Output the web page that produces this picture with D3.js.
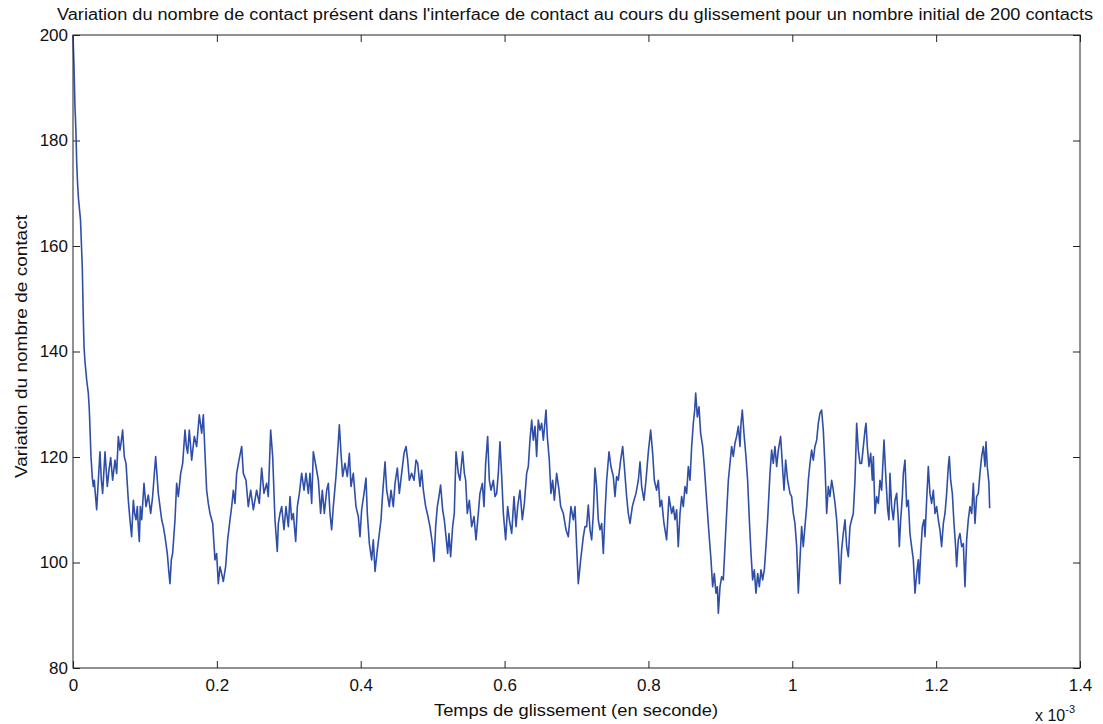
<!DOCTYPE html>
<html>
<head>
  <style>
    body { margin: 0; padding: 0; background: #fff; }
    svg { display: block; font-family: "Liberation Sans", Arial, sans-serif; }
  </style>
</head>
<body>
  <div id="chart"></div>
  <script src="https://cdnjs.cloudflare.com/ajax/libs/d3/7.8.5/d3.min.js"></script>
  <script>
    // time in units of 1e-3 s, number of contacts
    const title = "Variation du nombre de contact présent dans l'interface de contact au cours du glissement pour un nombre initial de 200 contacts";
    const xLabel = "Temps de glissement (en seconde)";
    const yLabel = "Variation du nombre de contact";
    const xTicks = [0, 0.2, 0.4, 0.6, 0.8, 1, 1.2, 1.4];
    const yTicks = [80, 100, 120, 140, 160, 180, 200];

    const contacts = [
      [0,200],[0.0007,197],[0.0014,194],[0.0021,190],[0.0028,186],[0.0035,184],[0.0042,181],[0.0051,176],
      [0.0063,172],[0.0076,169],[0.0090,167],[0.0104,165],[0.0111,162.5],[0.0129,156],[0.0143,146.6],
      [0.0153,141],[0.0167,138],[0.0181,136],[0.0190,134.6],[0.0213,132.1],[0.0227,128.9],[0.0250,120.1],
      [0.0269,116.0],[0.0283,114.4],[0.0296,115.6],[0.0310,113.1],[0.0329,110.0],[0.0347,114.4],[0.0375,121.0],
      [0.0394,115.6],[0.0412,113.1],[0.0445,121.0],[0.0477,114.4],[0.0500,117.5],[0.0524,119.9],[0.0551,115.6],
      [0.0584,119.4],[0.0607,116.9],[0.0630,123.9],[0.0653,121.3],[0.0667,122.6],[0.0690,125.1],[0.0713,120.1],
      [0.0737,118.8],[0.0769,111.8],[0.0792,108.1],[0.0815,104.9],[0.0839,111.8],[0.0857,109.3],[0.0876,108.1],
      [0.0894,110.6],[0.0908,106.8],[0.0922,104.0],[0.0936,110.6],[0.0955,108.1],[0.0987,115.0],[0.1015,110.6],
      [0.1047,112.8],[0.1080,109.3],[0.1107,112.5],[0.1149,120.1],[0.1186,113.1],[0.1233,108.1],[0.1256,106.8],
      [0.1279,104.9],[0.1311,101.7],[0.1330,98.6],[0.1348,96.0],[0.1367,100.5],[0.1385,101.7],[0.1418,108.1],
      [0.1441,115.0],[0.1464,112.5],[0.1497,116.9],[0.1525,118.8],[0.1557,125.1],[0.1576,122.0],[0.1594,120.7],
      [0.1617,125.1],[0.1650,119.4],[0.1687,123.9],[0.1719,122.0],[0.1756,128.0],[0.1789,124.5],[0.1812,128.0],
      [0.1835,120.7],[0.1858,113.7],[0.1881,111.2],[0.1905,109.3],[0.1942,107.4],[0.1974,100.5],[0.1997,101.7],
      [0.2020,96.0],[0.2044,99.2],[0.2067,97.9],[0.2090,96.4],[0.2122,99.2],[0.2150,104.3],[0.2183,108.1],
      [0.2206,110.6],[0.2229,113.7],[0.2252,111.2],[0.2275,116.9],[0.2308,119.4],[0.2345,122.0],[0.2368,116.9],
      [0.2405,115.6],[0.2437,110.6],[0.2470,113.7],[0.2507,110.0],[0.2553,113.7],[0.2590,111.2],[0.2623,117.9],
      [0.2655,113.1],[0.2692,115.0],[0.2715,112.5],[0.2748,125.1],[0.2776,120.1],[0.2808,108.1],[0.2840,102.1],
      [0.2855,107.4],[0.2878,109.3],[0.2901,110.6],[0.2933,106.2],[0.2961,110.6],[0.2994,106.8],[0.3017,112.5],
      [0.3040,108.1],[0.3063,109.3],[0.3096,104.0],[0.3119,110.6],[0.3147,113.1],[0.3179,116.9],[0.3212,113.7],
      [0.3239,116.9],[0.3272,113.1],[0.3295,116.9],[0.3318,111.2],[0.3341,121.0],[0.3378,118.2],[0.3411,115.6],
      [0.3443,109.3],[0.3466,113.7],[0.3494,109.3],[0.3527,113.7],[0.3550,115.0],[0.3573,109.3],[0.3596,106.2],
      [0.3619,110.6],[0.3656,116.3],[0.3680,121.0],[0.3703,126.1],[0.3726,120.7],[0.3749,116.3],[0.3781,118.8],
      [0.3814,116.3],[0.3842,120.7],[0.3865,114.4],[0.3897,116.9],[0.3934,110.6],[0.3967,108.7],[0.3990,104.9],
      [0.4013,110.0],[0.4046,113.1],[0.4073,116.0],[0.4092,109.3],[0.4120,103.6],[0.4152,100.5],[0.4175,104.3],
      [0.4199,98.3],[0.4231,102.4],[0.4259,105.5],[0.4282,108.1],[0.4305,113.1],[0.4338,119.1],[0.4361,113.7],
      [0.4398,110.6],[0.4421,113.7],[0.4453,110.6],[0.4477,115.0],[0.4509,117.9],[0.4537,113.1],[0.4569,116.9],
      [0.4602,120.7],[0.4630,122.0],[0.4653,119.4],[0.4676,115.6],[0.4708,116.9],[0.4741,115.6],[0.4769,119.4],
      [0.4792,118.8],[0.4824,114.4],[0.4847,117.5],[0.4871,113.7],[0.4903,110.6],[0.4926,109.3],[0.4963,106.8],
      [0.4996,103.6],[0.5019,100.2],[0.5042,106.8],[0.5065,110.6],[0.5088,112.5],[0.5111,114.7],[0.5139,110.0],
      [0.5162,108.1],[0.5186,104.9],[0.5209,101.7],[0.5227,105.5],[0.5250,101.1],[0.5278,106.8],[0.5301,109.3],
      [0.5325,121.0],[0.5357,116.9],[0.5380,115.6],[0.5417,121.0],[0.5441,116.9],[0.5459,115.6],[0.5482,109.3],
      [0.5510,111.8],[0.5543,106.8],[0.5575,108.7],[0.5603,104.3],[0.5635,109.3],[0.5658,113.1],[0.5691,115.0],
      [0.5714,110.6],[0.5737,118.8],[0.5765,123.9],[0.5788,115.6],[0.5811,113.7],[0.5844,115.6],[0.5867,112.5],
      [0.5890,113.1],[0.5913,116.9],[0.5936,122.9],[0.5960,116.3],[0.5983,109.3],[0.6015,104.3],[0.6043,110.6],
      [0.6066,108.1],[0.6099,105.5],[0.6131,112.5],[0.6159,106.8],[0.6182,110.6],[0.6214,113.7],[0.6247,108.1],
      [0.6275,111.2],[0.6307,116.9],[0.6330,118.2],[0.6353,123.2],[0.6377,127.0],[0.6400,123.2],[0.6423,125.8],
      [0.6446,120.1],[0.6469,127.0],[0.6492,125.1],[0.6516,126.4],[0.6539,123.2],[0.6576,128.9],[0.6594,123.9],
      [0.6622,119.4],[0.6645,113.1],[0.6669,115.6],[0.6692,111.8],[0.6724,116.9],[0.6757,113.7],[0.6780,110.6],
      [0.6817,109.3],[0.6854,106.2],[0.6886,104.9],[0.6923,110.6],[0.6956,108.1],[0.6979,110.6],[0.7002,103.0],
      [0.7025,96.0],[0.7058,100.5],[0.7095,104.9],[0.7118,106.8],[0.7141,106.8],[0.7164,110.9],[0.7188,106.2],
      [0.7211,104.3],[0.7234,109.3],[0.7257,117.9],[0.7280,114.4],[0.7303,108.1],[0.7327,106.2],[0.7350,107.4],
      [0.7373,101.7],[0.7396,109.3],[0.7419,115.6],[0.7452,121.0],[0.7479,118.2],[0.7512,116.3],[0.7535,112.5],
      [0.7558,116.3],[0.7581,115.6],[0.7614,119.4],[0.7642,122.0],[0.7665,118.2],[0.7697,112.5],[0.7720,109.3],
      [0.7744,107.4],[0.7776,110.6],[0.7799,111.8],[0.7827,113.1],[0.7860,115.6],[0.7883,119.1],[0.7906,114.4],
      [0.7938,111.8],[0.7966,115.6],[0.7999,121.0],[0.8031,125.1],[0.8059,120.7],[0.8082,115.6],[0.8114,113.7],
      [0.8138,115.6],[0.8161,110.6],[0.8184,111.8],[0.8216,107.4],[0.8253,104.3],[0.8286,112.5],[0.8323,109.3],
      [0.8346,110.6],[0.8369,108.1],[0.8392,110.0],[0.8415,103.0],[0.8439,109.3],[0.8462,112.5],[0.8485,110.6],
      [0.8508,114.4],[0.8531,113.1],[0.8555,118.2],[0.8578,115.6],[0.8601,122.0],[0.8624,126.4],[0.8643,128.9],
      [0.8657,132.1],[0.8680,127.6],[0.8703,129.5],[0.8726,124.5],[0.8754,122.0],[0.8777,118.2],[0.8809,111.8],
      [0.8842,105.5],[0.8870,100.5],[0.8893,95.4],[0.8916,97.9],[0.8939,94.2],[0.8958,95.4],[0.8972,90.4],
      [0.8995,95.4],[0.9018,97.3],[0.9041,96.7],[0.9064,103.0],[0.9087,109.3],[0.9111,115.6],[0.9134,118.8],
      [0.9157,122.0],[0.9180,120.1],[0.9203,122.6],[0.9226,123.9],[0.9250,125.8],[0.9273,122.0],[0.9287,126.4],
      [0.9305,128.9],[0.9328,124.5],[0.9356,120.1],[0.9379,115.6],[0.9403,108.1],[0.9426,101.7],[0.9449,96.7],
      [0.9472,98.6],[0.9495,94.2],[0.9519,97.9],[0.9542,95.4],[0.9565,98.6],[0.9588,96.7],[0.9611,98.6],
      [0.9634,103.0],[0.9657,108.1],[0.9690,116.9],[0.9713,121.3],[0.9736,118.8],[0.9759,122.0],[0.9783,118.2],
      [0.9806,121.3],[0.9838,123.9],[0.9861,118.8],[0.9885,113.7],[0.9908,119.4],[0.9935,115.6],[0.9968,113.1],
      [0.9991,112.5],[1.0014,109.3],[1.0037,107.4],[1.0061,103.0],[1.0084,94.2],[1.0107,100.5],[1.0130,106.8],
      [1.0153,103.0],[1.0176,106.8],[1.0200,110.6],[1.0223,115.6],[1.0246,118.8],[1.0269,121.3],[1.0292,119.4],
      [1.0315,122.0],[1.0339,123.2],[1.0362,126.4],[1.0385,128.3],[1.0408,128.9],[1.0431,125.1],[1.0455,118.2],
      [1.0478,109.3],[1.0501,114.4],[1.0524,112.5],[1.0547,115.6],[1.0570,113.7],[1.0594,111.2],[1.0617,108.1],
      [1.0640,103.0],[1.0663,96.0],[1.0686,102.4],[1.0709,105.5],[1.0733,108.1],[1.0756,103.0],[1.0779,101.1],
      [1.0802,106.8],[1.0825,108.1],[1.0848,109.3],[1.0872,115.6],[1.0895,126.4],[1.0918,121.3],[1.0941,118.8],
      [1.0964,118.8],[1.0988,122.0],[1.1011,125.1],[1.1025,126.4],[1.1043,122.0],[1.1066,118.2],[1.1090,120.7],
      [1.1113,115.6],[1.1127,120.1],[1.1150,109.3],[1.1173,112.5],[1.1196,111.2],[1.1219,115.6],[1.1242,113.7],
      [1.1275,123.2],[1.1303,115.6],[1.1326,110.0],[1.1344,108.1],[1.1358,116.9],[1.1381,110.6],[1.1405,108.1],
      [1.1428,111.8],[1.1451,113.1],[1.1474,108.1],[1.1488,103.0],[1.1507,108.1],[1.1530,112.5],[1.1544,116.9],
      [1.1567,119.4],[1.1590,110.6],[1.1613,111.8],[1.1636,105.5],[1.1659,103.0],[1.1683,100.5],[1.1706,94.2],
      [1.1729,97.9],[1.1752,100.5],[1.1766,96.0],[1.1785,101.7],[1.1808,106.8],[1.1831,108.1],[1.1845,104.9],
      [1.1868,111.8],[1.1891,118.2],[1.1914,113.1],[1.1937,111.2],[1.1961,113.7],[1.1984,109.3],[1.2007,110.6],
      [1.2030,108.1],[1.2053,106.2],[1.2076,103.0],[1.2100,107.4],[1.2123,109.3],[1.2146,113.1],[1.2169,118.2],
      [1.2183,120.1],[1.2202,115.6],[1.2225,113.1],[1.2248,107.4],[1.2271,103.0],[1.2285,99.2],[1.2308,104.3],
      [1.2331,105.5],[1.2355,103.0],[1.2378,103.6],[1.2401,95.4],[1.2424,104.3],[1.2447,108.1],[1.2470,110.6],
      [1.2494,109.3],[1.2517,115.0],[1.2540,107.4],[1.2563,112.5],[1.2586,113.1],[1.2609,116.9],[1.2633,120.1],
      [1.2656,122.0],[1.2679,118.2],[1.2693,122.9],[1.2711,118.2],[1.2734,115.0],[1.2744,110.3]
    ];

    const width = 1103, height = 724;
    const margin = { top: 35, right: 23, bottom: 56, left: 73 };
    const innerW = width - margin.left - margin.right;
    const innerH = height - margin.top - margin.bottom;

    const svg = d3.select('#chart').append('svg')
      .attr('width', width)
      .attr('height', height);

    const g = svg.append('g')
      .attr('transform', `translate(${margin.left},${margin.top})`);

    const x = d3.scaleLinear().domain([0, 1.4]).range([0, innerW]);
    const y = d3.scaleLinear().domain([80, 200]).range([innerH, 0]);
    const fmt = d3.format('~g');

    // axes, MATLAB style ticks pointing inward
    const styleAxis = sel => {
      sel.select('.domain').remove();
      sel.selectAll('.tick line').attr('stroke', '#222');
      sel.selectAll('.tick text').attr('fill', '#111').attr('font-size', 17);
    };

    g.append('g')
      .attr('transform', `translate(0,${innerH})`)
      .call(d3.axisBottom(x).tickValues(xTicks).tickFormat(fmt).tickSize(-7).tickPadding(11))
      .call(styleAxis);
    g.append('g')
      .call(d3.axisTop(x).tickValues(xTicks).tickFormat('').tickSize(-7))
      .call(styleAxis);
    g.append('g')
      .call(d3.axisLeft(y).tickValues(yTicks).tickSize(-7).tickPadding(5))
      .call(styleAxis);
    g.append('g')
      .attr('transform', `translate(${innerW},0)`)
      .call(d3.axisRight(y).tickValues(yTicks).tickFormat('').tickSize(-7))
      .call(styleAxis);

    // the series
    const line = d3.line()
      .x(d => x(d[0]))
      .y(d => y(d[1]));

    g.append('path')
      .datum(contacts)
      .attr('fill', 'none')
      .attr('stroke', '#2f4ea8')
      .attr('stroke-width', 1.6)
      .attr('stroke-linejoin', 'round')
      .attr('d', line);

    // box
    g.append('rect')
      .attr('width', innerW)
      .attr('height', innerH)
      .attr('fill', 'none')
      .attr('stroke', '#222')
      .attr('stroke-width', 1);

    // texts
    svg.append('text')
      .attr('x', 57).attr('y', 20)
      .attr('font-size', 16)
      .attr('fill', '#111')
      .attr('textLength', 1036)
      .attr('lengthAdjust', 'spacingAndGlyphs')
      .text(title);

    svg.append('text')
      .attr('x', 434).attr('y', 716)
      .attr('font-size', 17)
      .attr('fill', '#111')
      .attr('textLength', 284)
      .attr('lengthAdjust', 'spacingAndGlyphs')
      .text(xLabel);

    svg.append('text')
      .attr('transform', `translate(27,478) rotate(-90)`)
      .attr('font-size', 17)
      .attr('fill', '#111')
      .attr('textLength', 263)
      .attr('lengthAdjust', 'spacingAndGlyphs')
      .text(yLabel);

    const exp = svg.append('text')
      .attr('x', 1035).attr('y', 721)
      .attr('font-size', 16)
      .attr('fill', '#111');
    exp.append('tspan').text('x 10');
    exp.append('tspan').attr('dy', -8).attr('font-size', 11).text('-3');
  </script>
</body>
</html>
